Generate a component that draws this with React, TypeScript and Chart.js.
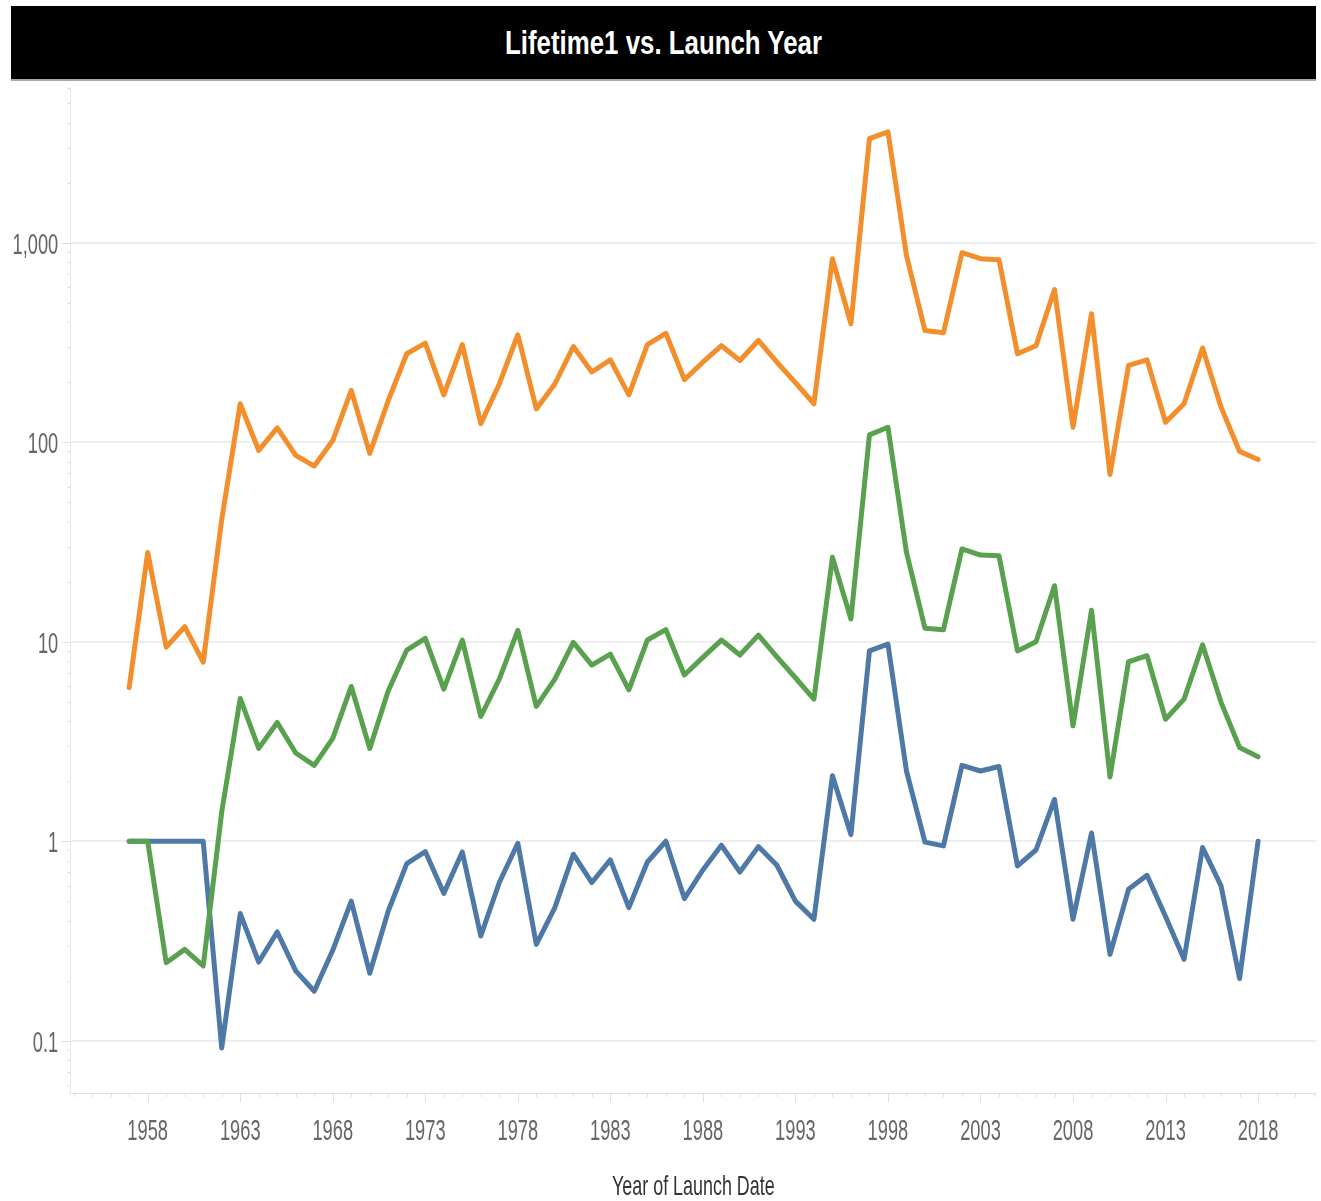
import { useEffect, useRef } from "react";
import { Chart, registerables } from "chart.js";

Chart.register(...registerables);

// Launch years on the x axis
const years = [
  1957, 1958, 1959, 1960, 1961, 1962, 1963, 1964, 1965, 1966,
  1967, 1968, 1969, 1970, 1971, 1972, 1973, 1974, 1975, 1976,
  1977, 1978, 1979, 1980, 1981, 1982, 1983, 1984, 1985, 1986,
  1987, 1988, 1989, 1990, 1991, 1992, 1993, 1994, 1995, 1996,
  1997, 1998, 1999, 2000, 2001, 2002, 2003, 2004, 2005, 2006,
  2007, 2008, 2009, 2010, 2011, 2012, 2013, 2014, 2015, 2016,
  2017, 2018,
];

// Lifetime1 per launch year (log scale)
const maxLifetime = [
  5.9, 28, 9.4, 11.9, 7.9, 41, 156, 91, 118, 86,
  76, 102, 182, 88, 162, 278, 314, 173, 309, 124,
  196, 346, 147, 196, 302, 225, 259, 173, 309, 352,
  206, 252, 305, 257, 324, 252, 199, 156, 832, 393,
  3330, 3600, 864, 363, 354, 892, 832, 822, 278, 305,
  583, 119, 441, 69, 243, 259, 126, 156, 297, 150,
  90, 82,
];

const avgLifetime = [
  1.0, 1.0, 0.246, 0.287, 0.237, 1.4, 5.2, 2.92, 3.94, 2.77,
  2.4, 3.28, 5.97, 2.92, 5.68, 9.09, 10.4, 5.79, 10.2, 4.22,
  6.5, 11.4, 4.74, 6.5, 9.93, 7.64, 8.67, 5.74, 10.2, 11.5,
  6.81, 8.35, 10.2, 8.58, 10.8, 8.41, 6.6, 5.16, 26.5, 13.0,
  109, 119, 28.1, 11.7, 11.5, 29.2, 27.2, 27.0, 9.0, 10.0,
  19.1, 3.79, 14.4, 2.1, 7.94, 8.51, 4.09, 5.16, 9.66, 4.97,
  2.95, 2.65,
];

const minLifetime = [
  1.0, 1.0, 1.0, 1.0, 1.0, 0.092, 0.434, 0.248, 0.351, 0.224,
  0.177, 0.284, 0.501, 0.218, 0.447, 0.773, 0.888, 0.548, 0.884, 0.335,
  0.621, 0.977, 0.304, 0.465, 0.861, 0.621, 0.806, 0.465, 0.787, 1.0,
  0.516, 0.718, 0.955, 0.701, 0.94, 0.758, 0.501, 0.406, 2.13, 1.08,
  9.01, 9.73, 2.25, 0.99, 0.948, 2.4, 2.25, 2.37, 0.752, 0.904,
  1.62, 0.406, 1.1, 0.271, 0.574, 0.675, 0.42, 0.256, 0.93, 0.597,
  0.205, 1.0,
];

const yTickValues = [0.1, 1, 10, 100, 1000];
const xTickYears = [1958, 1963, 1968, 1973, 1978, 1983, 1988, 1993, 1998, 2003, 2008, 2013, 2018];

const SANS = '"Liberation Sans", Arial, sans-serif';
const TICK_FONT = `29px ${SANS}`;
const AXIS_TITLE_FONT = `28px ${SANS}`;
const CONDENSE = 0.63;

const toPoints = (vals: number[]) => years.map((yr, i) => ({ x: yr, y: vals[i] }));

// Horizontally condensed text, anchored at (x, baseline y)
function drawCondensed(
  ctx: CanvasRenderingContext2D,
  text: string,
  x: number,
  y: number,
  align: "left" | "center" | "right",
  font: string,
  color: string,
  sx: number
) {
  ctx.save();
  ctx.font = font;
  ctx.fillStyle = color;
  ctx.textBaseline = "alphabetic";
  ctx.textAlign = "left";
  const w = ctx.measureText(text).width * sx;
  const left = align === "center" ? x - w / 2 : align === "right" ? x - w : x;
  ctx.translate(left, y);
  ctx.scale(sx, 1);
  ctx.fillText(text, 0, 0);
  ctx.restore();
}

// Tick marks (yearly on x, log minors on y), tick labels and the x axis title
const axisDecor = {
  id: "axisDecor",
  afterDraw(chart: any) {
    const { ctx, chartArea } = chart;
    const x = chart.scales.x;
    const y = chart.scales.y;
    ctx.save();
    ctx.strokeStyle = "#dedede";
    ctx.lineWidth = 1;
    for (let yr = Math.ceil(x.min); yr <= Math.floor(x.max); yr++) {
      const px = Math.round(x.getPixelForValue(yr)) + 0.5;
      const len = xTickYears.includes(yr) ? 9 : 4;
      ctx.beginPath();
      ctx.moveTo(px, chartArea.bottom);
      ctx.lineTo(px, chartArea.bottom + len);
      ctx.stroke();
    }
    for (let e = -2; e <= 3; e++) {
      for (let m = 1; m <= 9; m++) {
        const v = m * Math.pow(10, e);
        if (v < y.min || v > y.max) continue;
        const py = Math.round(y.getPixelForValue(v)) + 0.5;
        const len = m === 1 ? 9 : 3;
        ctx.beginPath();
        ctx.moveTo(chartArea.left - len, py);
        ctx.lineTo(chartArea.left, py);
        ctx.stroke();
      }
    }
    ctx.restore();

    x.ticks.forEach((t: any) => {
      const px = x.getPixelForValue(t.value);
      drawCondensed(ctx, String(t.value), px, chartArea.bottom + 47, "center", TICK_FONT, "#666666", CONDENSE);
    });
    y.ticks.forEach((t: any) => {
      const py = y.getPixelForValue(t.value);
      const label = Number(t.value).toLocaleString("en-US");
      drawCondensed(ctx, label, chartArea.left - 12.5, py + 11, "right", TICK_FONT, "#666666", CONDENSE);
    });
    drawCondensed(
      ctx,
      "Year of Launch Date",
      (chartArea.left + chartArea.right) / 2,
      chartArea.bottom + 102,
      "center",
      AXIS_TITLE_FONT,
      "#333333",
      0.64
    );
  },
};

export default function App() {
  const canvasRef = useRef<HTMLCanvasElement | null>(null);

  useEffect(() => {
    const canvas = canvasRef.current;
    if (!canvas) return;
    const lineStyle = {
      borderWidth: 5,
      pointRadius: 0,
      pointHoverRadius: 0,
      tension: 0,
      borderJoinStyle: "round" as const,
      borderCapStyle: "round" as const,
      fill: false,
    };
    const chart = new Chart(canvas, {
      type: "line",
      data: {
        datasets: [
          { label: "Avg. Lifetime1", data: toPoints(avgLifetime), borderColor: "#59a14f", ...lineStyle },
          { label: "Min. Lifetime1", data: toPoints(minLifetime), borderColor: "#4e79a7", ...lineStyle },
          { label: "Max. Lifetime1", data: toPoints(maxLifetime), borderColor: "#f28e2b", ...lineStyle },
        ],
      },
      options: {
        animation: false,
        responsive: false,
        devicePixelRatio: 1,
        layout: { padding: { left: 0, top: 87, right: 5, bottom: 0 } },
        plugins: {
          legend: { display: false },
          tooltip: { enabled: false },
          title: { display: false },
        },
        scales: {
          x: {
            type: "linear",
            min: 1953.84,
            max: 2021.13,
            afterBuildTicks: (scale: any) => {
              scale.ticks = xTickYears.map((v) => ({ value: v }));
            },
            afterFit: (scale: any) => {
              scale.height = 108;
            },
            grid: { display: false },
            border: { display: true, color: "#e2e2e2", width: 1 },
            ticks: { display: false },
          },
          y: {
            type: "logarithmic",
            min: 0.0547,
            max: 6040,
            afterBuildTicks: (scale: any) => {
              scale.ticks = yTickValues.map((v) => ({ value: v }));
            },
            afterFit: (scale: any) => {
              scale.width = 70.7;
            },
            grid: { color: "#eeeeee", lineWidth: 2, drawTicks: false },
            border: { display: true, color: "#e8e8e8", width: 1 },
            ticks: { display: false },
          },
        },
      },
      plugins: [axisDecor],
    });
    return () => chart.destroy();
  }, []);

  return (
    <div style={{ position: "absolute", left: 0, top: 0, width: 1321, height: 1201, background: "#fff" }}>
      <div
        style={{
          position: "absolute",
          left: 11,
          top: 6,
          width: 1305,
          height: 73,
          background: "#000",
          borderBottom: "2px solid #a8a8a8",
          color: "#fff",
          display: "flex",
          alignItems: "center",
          justifyContent: "center",
          fontFamily: SANS,
          fontWeight: 700,
          fontSize: 34,
        }}
      >
        <span style={{ display: "inline-block", transform: "scaleX(0.76)", whiteSpace: "nowrap" }}>
          Lifetime1 vs. Launch Year
        </span>
      </div>
      <canvas ref={canvasRef} width={1321} height={1201} style={{ display: "block" }} />
    </div>
  );
}
